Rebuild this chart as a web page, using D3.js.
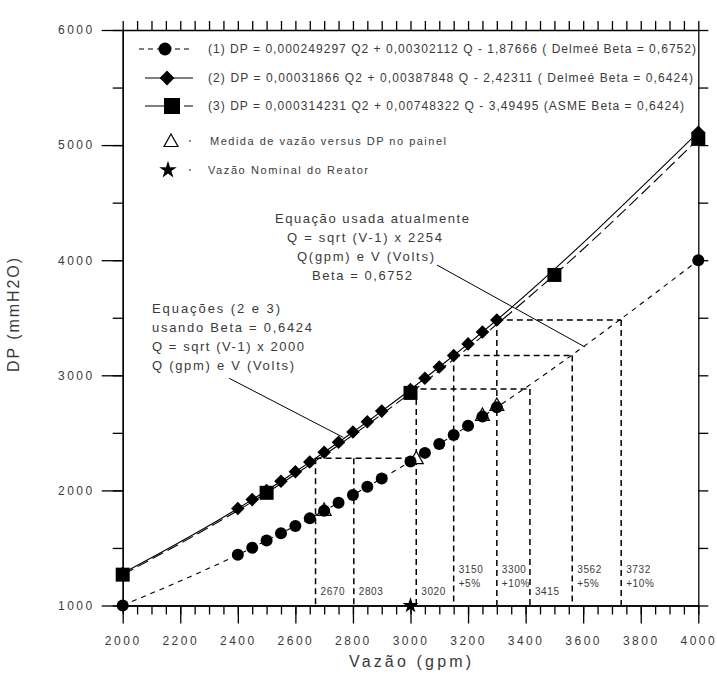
<!DOCTYPE html>
<html>
<head>
<meta charset="utf-8">
<script src="https://cdn.jsdelivr.net/npm/d3@7"></script>
<style>
  body { margin: 0; background: #fff; }
  svg { display: block; font-family: "Liberation Sans", Arial, sans-serif; }
</style>
</head>
<body>
<svg id="chart" width="717" height="676"></svg>
<script>
// Curva (1) Delmeé Beta 0,6752
const flowQ1 = [2000, 2400, 2450, 2500, 2550, 2600, 2650, 2700, 2750, 2800, 2850, 2900,
                3000, 3050, 3100, 3150, 3200, 3250, 3300, 4000];
const dpEq1 = [1001, 1441, 1502, 1564, 1627, 1691, 1757, 1824, 1892, 1961, 2032, 2104,
               2251, 2326, 2403, 2481, 2561, 2641, 2723, 3999];
// Curva (2) Delmeé Beta 0,6424
const flowQ2 = [2000, 2400, 2450, 2500, 2550, 2600, 2650, 2700, 2750, 2800, 2850, 2900,
                3000, 3050, 3100, 3150, 3200, 3250, 3300, 4000];
const dpEq2 = [1280, 1842, 1920, 1999, 2080, 2162, 2246, 2331, 2418, 2507, 2597, 2689,
               2877, 2974, 3072, 3172, 3273, 3376, 3481, 5112];
// Curva (3) ASME Beta 0,6424
const flowQ3 = [2000, 2500, 3000, 3500, 4000];
const dpEq3 = [1268, 1979, 2847, 3872, 5054];
// Medidas no painel e vazão nominal
const measQ = [2700, 3020, 3250, 3300];
const measDP = [1830, 2280, 2655, 2742];
const nominalQ = [3000];
const nominalDP = [1000];

const xTicks = [2000, 2200, 2400, 2600, 2800, 3000, 3200, 3400, 3600, 3800, 4000];
const yTicks = [1000, 2000, 3000, 4000, 5000, 6000];

// linhas de referência tracejadas
const refQ = [2670, 2803, 3020, 3150, 3300, 3415, 3562, 3732];
const refDP = [2280, 2280, 2880, 3172, 3480, 2880, 3172, 3480];
const refLabels = [["2670"], ["2803"], ["3020"], ["3150", "+5%"], ["3300", "+10%"],
                   ["3415"], ["3562", "+5%"], ["3732", "+10%"]];
const hFrom = [2670, 3000, 3150, 3300];
const hTo = [3020, 3415, 3562, 3732];
const hDP = [2280, 2880, 3172, 3480];

const legendText = [
  "(1) DP = 0,000249297 Q2 + 0,00302112 Q - 1,87666  ( Delmeé Beta = 0,6752)",
  "(2) DP = 0,00031866 Q2 + 0,00387848 Q - 2,42311  ( Delmeé  Beta = 0,6424)",
  "(3) DP = 0,000314231 Q2 + 0,00748322 Q - 3,49495  (ASME Beta = 0,6424)",
  "Medida de vazão versus DP no painel",
  "Vazão Nominal do Reator"
];
const noteA = ["Equação usada atualmente", "Q = sqrt (V-1) x 2254", "Q(gpm) e V (Volts)", "Beta = 0,6752"];
const noteB = [" Equações (2 e 3)", "usando Beta = 0,6424", "Q = sqrt (V-1) x 2000", "Q (gpm) e V (Volts)"];
// setas das notas (início e fim em Q, DP)
const arrowA = [[3092, 3958], [3606, 3246]];
const arrowB = [[2370, 2974], [2766, 2461]];

const svg = d3.select("#chart");
const x = d3.scaleLinear().domain([2000, 4000]).range([122.7, 698.3]);
const y = d3.scaleLinear().domain([1000, 6000]).range([605.5, 30]);
const textColor = "#3a3a3a";

function styleAxis(g) {
  g.selectAll("path.domain").attr("stroke", "#000").attr("stroke-width", 1.3);
  g.selectAll(".tick line").attr("stroke", "#000").attr("stroke-width", 1.3);
  g.selectAll(".tick text")
    .attr("fill", textColor)
    .style("font-size", "12px")
    .style("letter-spacing", "2.5px");
}

// eixos com marcas menores
svg.append("g").attr("transform", `translate(0,${y(1000)})`)
  .call(d3.axisBottom(x).tickValues(d3.range(2000, 4001, 50)).tickSize(9).tickSizeOuter(0).tickFormat(""))
  .call(styleAxis);
svg.append("g").attr("transform", `translate(0,${y(1000)})`)
  .call(d3.axisBottom(x).tickValues(xTicks).tickSize(18).tickSizeOuter(0).tickPadding(13).tickFormat(d3.format("d")))
  .call(styleAxis);
svg.append("g").attr("transform", `translate(0,${y(6000)})`)
  .call(d3.axisTop(x).tickValues(d3.range(2000, 4001, 50)).tickSize(9).tickSizeOuter(0).tickFormat(""))
  .call(styleAxis);
svg.append("g").attr("transform", `translate(${x(2000)},0)`)
  .call(d3.axisLeft(y).tickValues(d3.range(1000, 6001, 500)).tickSize(10).tickSizeOuter(0).tickFormat(""))
  .call(styleAxis);
svg.append("g").attr("transform", `translate(${x(2000)},0)`)
  .call(d3.axisLeft(y).tickValues(yTicks).tickSize(21).tickSizeOuter(0).tickPadding(7).tickFormat(d3.format("d")))
  .call(styleAxis);
svg.append("g").attr("transform", `translate(${x(4000)},0)`)
  .call(d3.axisRight(y).tickValues(d3.range(1000, 6001, 500)).tickSize(10).tickSizeOuter(0).tickFormat(""))
  .call(styleAxis);

// títulos dos eixos
svg.append("text")
  .attr("transform", "translate(19,315) rotate(-90)")
  .attr("text-anchor", "middle")
  .attr("fill", textColor)
  .style("font-size", "16px")
  .attr("textLength", 114)
  .text("DP (mmH2O)");
svg.append("text")
  .attr("x", 349).attr("y", 667)
  .attr("fill", textColor)
  .style("font-size", "16px")
  .attr("textLength", 122)
  .text("Vazão (gpm)");

// linhas de referência
const ref = svg.append("g").attr("stroke", "#000").attr("stroke-width", 1.5).attr("stroke-dasharray", "6,4");
refQ.forEach((q, i) => {
  ref.append("line")
    .attr("x1", x(q)).attr("x2", x(q))
    .attr("y1", y(refDP[i])).attr("y2", y(1000));
});
hDP.forEach((dp, i) => {
  ref.append("line")
    .attr("x1", x(hFrom[i])).attr("x2", x(hTo[i]))
    .attr("y1", y(dp)).attr("y2", y(dp));
});
refLabels.forEach((lines, i) => {
  const t = svg.append("text").attr("fill", textColor).style("font-size", "10px").style("letter-spacing", "0.6px");
  const y0 = lines.length === 1 ? 595 : 572.5;
  lines.forEach((s, j) => {
    t.append("tspan").attr("x", x(refQ[i]) + 5).attr("y", y0 + j * 14).text(s);
  });
});

// curvas
const line = (qs, dps) => d3.line().curve(d3.curveMonotoneX)
  .x((d, i) => x(qs[i])).y((d, i) => y(dps[i]))(qs);

svg.append("path").attr("d", line(flowQ1, dpEq1))
  .attr("fill", "none").attr("stroke", "#000").attr("stroke-width", 1.1).attr("stroke-dasharray", "5,5");
svg.append("path").attr("d", line(flowQ2, dpEq2))
  .attr("fill", "none").attr("stroke", "#000").attr("stroke-width", 1.1);
svg.append("path").attr("d", line(flowQ3, dpEq3))
  .attr("fill", "none").attr("stroke", "#000").attr("stroke-width", 1.1).attr("stroke-dasharray", "12,5");

// setas das notas
[arrowA, arrowB].forEach(a => {
  svg.append("line")
    .attr("x1", x(a[0][0])).attr("y1", y(a[0][1]))
    .attr("x2", x(a[1][0])).attr("y2", y(a[1][1]))
    .attr("stroke", "#000").attr("stroke-width", 1);
});

// marcadores
const triPath = "M0,-7L7,5.5L-7,5.5Z";
svg.append("g").selectAll("path")
  .data(measQ).join("path")
  .attr("d", triPath)
  .attr("transform", (d, i) => `translate(${x(d)},${y(measDP[i])})`)
  .attr("fill", "#fff").attr("stroke", "#000").attr("stroke-width", 1.2);

svg.append("g").selectAll("circle")
  .data(flowQ1).join("circle")
  .attr("cx", d => x(d)).attr("cy", (d, i) => y(dpEq1[i]))
  .attr("r", 6).attr("fill", "#000");

const diamond = d3.symbol(d3.symbolSquare, 92)();
svg.append("g").selectAll("path")
  .data(flowQ2).join("path")
  .attr("d", diamond)
  .attr("transform", (d, i) => `translate(${x(d)},${y(dpEq2[i])}) rotate(45)`)
  .attr("fill", "#000");

svg.append("g").selectAll("rect")
  .data(flowQ3).join("rect")
  .attr("x", d => x(d) - 7).attr("y", (d, i) => y(dpEq3[i]) - 7)
  .attr("width", 14).attr("height", 14).attr("fill", "#000");

const star = d3.symbol(d3.symbolStar, 80)();
svg.append("g").selectAll("path")
  .data(nominalQ).join("path")
  .attr("d", star)
  .attr("transform", (d, i) => `translate(${x(d)},${y(nominalDP[i])})`)
  .attr("fill", "#000");

// notas
function note(lines, xs, widths, y0) {
  lines.forEach((s, i) => {
    svg.append("text")
      .attr("x", xs[i]).attr("y", y0 + i * 19.3)
      .attr("fill", textColor)
      .style("font-size", "13px")
      .attr("textLength", widths[i])
      .text(s);
  });
}
note(noteA, [275, 287, 297, 312], [194, 155, 137, 100], 222.5);
note(noteB, [152, 152, 152, 152], [128, 160, 152, 142], 312.5);

// legenda
const legY = [49, 78, 106, 141, 170];
const leg = svg.append("g");
leg.append("line").attr("x1", 139).attr("x2", 192).attr("y1", legY[0]).attr("y2", legY[0])
  .attr("stroke", "#000").attr("stroke-width", 1.2).attr("stroke-dasharray", "5,4");
leg.append("circle").attr("cx", 165).attr("cy", legY[0]).attr("r", 6.5).attr("fill", "#000");
leg.append("line").attr("x1", 145).attr("x2", 193).attr("y1", legY[1]).attr("y2", legY[1])
  .attr("stroke", "#000").attr("stroke-width", 1.2);
leg.append("path").attr("d", d3.symbol(d3.symbolSquare, 110)())
  .attr("transform", `translate(167,${legY[1]}) rotate(45)`).attr("fill", "#000");
leg.append("line").attr("x1", 145).attr("x2", 193).attr("y1", legY[2]).attr("y2", legY[2])
  .attr("stroke", "#000").attr("stroke-width", 1.2).attr("stroke-dasharray", "34,5,20");
leg.append("rect").attr("x", 164).attr("y", legY[2] - 8).attr("width", 16).attr("height", 16).attr("fill", "#000");
leg.append("path").attr("d", triPath)
  .attr("transform", `translate(171,${legY[3]})`)
  .attr("fill", "#fff").attr("stroke", "#000").attr("stroke-width", 1.2);
leg.append("path").attr("d", d3.symbol(d3.symbolStar, 95)())
  .attr("transform", `translate(168,${legY[4]})`).attr("fill", "#000");
[3, 4].forEach(i => {
  leg.append("circle").attr("cx", 190).attr("cy", legY[i]).attr("r", 0.8).attr("fill", "#000");
});
const legX = [208, 208, 208, 210, 208];
const legW = [488, 485, 476, 236, 160];
legendText.forEach((s, i) => {
  leg.append("text")
    .attr("x", legX[i]).attr("y", legY[i] + 4.3)
    .attr("fill", textColor)
    .style("font-size", i < 3 ? "12px" : "11px")
    .attr("textLength", legW[i])
    .text(s);
});
</script>
</body>
</html>
